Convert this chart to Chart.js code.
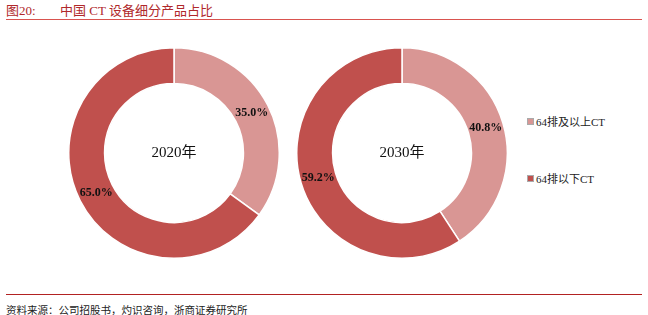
<!DOCTYPE html>
<html>
<head>
<meta charset="utf-8">
<script src="https://cdn.jsdelivr.net/npm/chart.js@4/dist/chart.umd.min.js"></script>
<style>
  body { margin: 0; background: #fff; width: 648px; height: 315px; position: relative; overflow: hidden;
         font-family: 'Liberation Serif', 'Noto Sans CJK SC', serif; }
  .title { position: absolute; top: 0px; font-size: 13px; color: #B0282B; white-space: pre; }
  .rule { position: absolute; left: 6px; width: 636px; height: 1px; }
  #rule1 { top: 19px; background: #D9534F; }
  #rule2 { top: 294px; background: #B22222; }
  #source { position: absolute; left: 6px; top: 302px; font-size: 10.5px; color: #222; }
  canvas.pie { position: absolute; }
  .legend { position: absolute; left: 527px; font-size: 11px; color: #222; white-space: nowrap; }
  .legend i { display: inline-block; width: 5px; height: 5px; border: 1px solid #aaa; margin-right: 2px; vertical-align: 1px; }
</style>
</head>
<body>
<div class="title" style="left:6px">图20:</div>
<div class="title" style="left:60px">中国 CT 设备细分产品占比</div>
<div class="rule" id="rule1"></div>
<canvas class="pie" id="pie2020" width="212" height="212" style="left:68px;top:47px"></canvas>
<canvas class="pie" id="pie2030" width="212" height="212" style="left:296px;top:47px"></canvas>
<div class="legend" id="leg0" style="top:113px"></div>
<div class="legend" id="leg1" style="top:170px"></div>
<div class="rule" id="rule2"></div>
<div id="source">资料来源：公司招股书，灼识咨询，浙商证券研究所</div>
<script>
const categories = ['64排及以上CT', '64排以下CT'];
const years = ['2020年', '2030年'];
const share2020 = [35.0, 65.0];
const share2030 = [40.8, 59.2];
const colors = ['#D99694', '#C0504D'];

categories.forEach((c, i) => {
    document.getElementById('leg' + i).innerHTML = '<i style="background:' + colors[i] + '"></i>' + c;
});

// percent labels on the ring and the year in the hole
const ringLabels = {
    id: 'ringLabels',
    afterDraw(chart, args, opts) {
        const ctx = chart.ctx;
        const meta = chart.getDatasetMeta(0);
        const values = chart.data.datasets[0].data;
        ctx.save();
        ctx.textAlign = 'center';
        ctx.textBaseline = 'middle';
        ctx.fillStyle = '#111';
        ctx.font = 'bold 12px "Liberation Serif"';
        meta.data.forEach((arc, i) => {
            const p = arc.tooltipPosition();
            ctx.fillText(values[i].toFixed(1) + '%', p.x, p.y);
        });
        const a = meta.data[0];
        ctx.font = '15px "Liberation Serif", "Noto Sans CJK SC"';
        ctx.fillText(opts.center, a.x, a.y);
        ctx.restore();
    }
};

function makePie(id, values, year) {
    return new Chart(document.getElementById(id), {
        type: 'doughnut',
        data: {
            labels: categories,
            datasets: [{
                data: values,
                backgroundColor: colors,
                borderColor: '#fff',
                borderWidth: 1.5
            }]
        },
        options: {
            responsive: false,
            animation: false,
            cutout: '66%',
            layout: { padding: 0 },
            plugins: {
                legend: { display: false },
                tooltip: { enabled: false },
                ringLabels: { center: year }
            }
        },
        plugins: [ringLabels]
    });
}

makePie('pie2020', share2020, years[0]);
makePie('pie2030', share2030, years[1]);
</script>
</body>
</html>
